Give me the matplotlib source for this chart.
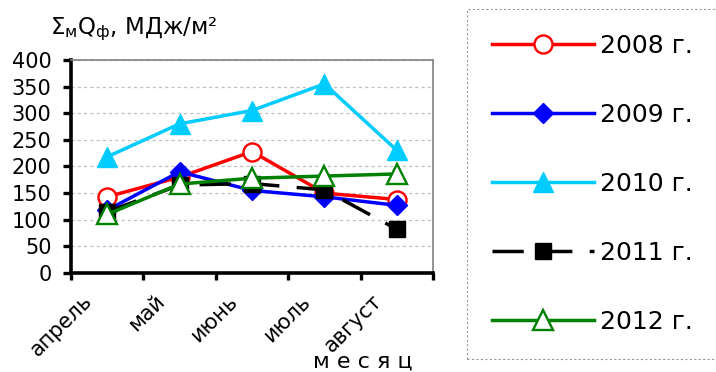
import numpy as np
import matplotlib.pyplot as plt
from matplotlib.transforms import ScaledTranslation

plt.rcParams['font.family'] = ['DejaVu Sans']
plt.rcParams['mathtext.fontset'] = 'dejavusans'

# Данные
месяцы = ['апрель', 'май', 'июнь', 'июль', 'август']
q_2008 = [143, 180, 228, 150, 138]
q_2009 = [118, 190, 155, 143, 127]
q_2010 = [218, 280, 305, 355, 230]
q_2011 = [115, 165, 168, 156, 82]
q_2012 = [110, 167, 178, 182, 186]
годы = ['2008 г.', '2009 г.', '2010 г.', '2011 г.', '2012 г.']

x = np.arange(len(месяцы))

fig = plt.figure(figsize=(7.16, 3.72), dpi=100)
ax = fig.add_axes([0.099, 0.266, 0.506, 0.573])

lw = 2.5
ax.plot(x, q_2008, color='#FF0000', lw=lw, marker='o', ms=13, mfc='white', mec='#FF0000', mew=1.7, label=годы[0])
ax.plot(x, q_2009, color='#0000FF', lw=lw, marker='D', ms=10, mfc='#0000FF', mec='#0000FF', label=годы[1])
ax.plot(x, q_2010, color='#00CCFF', lw=lw, marker='^', ms=15, mfc='#00CCFF', mec='#00CCFF', label=годы[2])
ax.plot(x, q_2011, color='black', lw=lw, ls=(0, (9, 5)), marker='s', ms=12, mfc='black', mec='black', label=годы[3])
ax.plot(x, q_2012, color='#008000', lw=lw, marker='^', ms=14, mfc='white', mec='#008000', mew=1.7, label=годы[4])

ax.set_xlim(-0.5, len(месяцы) - 0.5)
ax.set_ylim(0, 400)
ax.set_yticks(np.arange(0, 401, 50))
ax.yaxis.grid(True, color='#C0C0C0', ls=(0, (2.5, 2.5)), lw=0.9)
ax.set_axisbelow(True)

# засечки на границах категорий, подписи по центрам
ax.set_xticks(np.arange(-0.5, len(месяцы), 1))
ax.set_xticklabels([])
ax.set_xticks(x, minor=True)
ax.set_xticklabels(месяцы, minor=True, rotation=45, ha='right', va='top',
                   rotation_mode='anchor', fontsize=15)
ax.tick_params(axis='x', which='minor', length=0, pad=13)
ax.tick_params(axis='x', which='major', length=5, width=2.4, direction='out')
ax.tick_params(axis='y', length=6, width=2.4, labelsize=15, pad=8)
for lbl in ax.get_xticklabels(minor=True):
    lbl.set_transform(lbl.get_transform() + ScaledTranslation(-0.25, 0, fig.dpi_scale_trans))

for s in ['left', 'bottom']:
    ax.spines[s].set_linewidth(2.6)
    ax.spines[s].set_color('black')
for s in ['top', 'right']:
    ax.spines[s].set_linewidth(1.2)
    ax.spines[s].set_color('#808080')

fig.text(0.07, 0.922, r'$\Sigma_{\mathrm{м}}\mathrm{Q}_{\mathrm{ф}}$, МДж/м²', fontsize=16.5, va='center')
fig.text(0.437, 0.011, 'м е с я ц', fontsize=16, va='baseline')

leg = ax.legend(loc='upper left', bbox_to_anchor=(0.652, 0.976), bbox_transform=fig.transFigure,
                fontsize=18, handlelength=4.1, handletextpad=0.24, labelspacing=1.8,
                borderpad=1.0, borderaxespad=0, fancybox=False, framealpha=1)
leg.get_frame().set_edgecolor('#999999')
leg.get_frame().set_linestyle((0, (2, 2)))
leg.get_frame().set_linewidth(0.8)

fig.savefig('out.png', dpi=100)
